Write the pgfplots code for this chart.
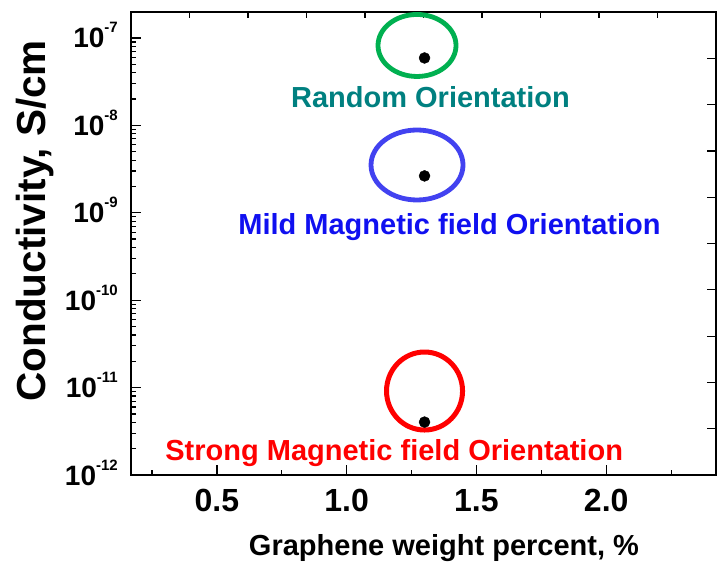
\documentclass[border=0pt]{standalone}
\usepackage{fontspec}
\setmainfont{Liberation Sans}
\usepackage{pgfplots}
\pgfplotsset{compat=1.18}

\definecolor{ringgreen}{RGB}{0,176,80}
\definecolor{ringblue}{RGB}{66,66,240}
\definecolor{txtteal}{RGB}{0,128,128}
\definecolor{txtblue}{RGB}{16,16,240}
\definecolor{txtred}{RGB}{255,0,0}

% power-of-ten tick label with a raised exponent
\newcommand{\ee}[1]{10\raisebox{15bp}{\fontsize{15bp}{18bp}\selectfont #1}}

\begin{document}
\begin{tikzpicture}
\path[use as bounding box] (-131bp,-89bp) rectangle (586bp,475bp);
\begin{axis}[
  scale only axis,
  width=585bp, height=463bp,
  ymode=log,
  xmin=0.169, xmax=2.423,
  ymin=1e-12, ymax=1.98e-7,
  clip=false,
  axis line style={line width=1.5bp},
  xtick pos=bottom, ytick pos=left,
  tick align=inside,
  major tick length=10bp, minor tick length=5bp,
  every tick/.style={black, line width=1.2bp},
  xtick={0.5,1,1.5,2},
  xticklabels={0.5,1.0,1.5,2.0},
  minor xtick={0.25,0.75,1.25,1.75,2.25},
  ytick={1e-12,1e-11,1e-10,1e-9,1e-8,1e-7},
  yticklabels={\ee{-12},\ee{-11},\ee{-10},\ee{-9},\ee{-8},\ee{-7}},
  minor ytick={2e-12,3e-12,4e-12,5e-12,6e-12,7e-12,8e-12,9e-12,
               2e-11,3e-11,4e-11,5e-11,6e-11,7e-11,8e-11,9e-11,
               2e-10,3e-10,4e-10,5e-10,6e-10,7e-10,8e-10,9e-10,
               2e-9,3e-9,4e-9,5e-9,6e-9,7e-9,8e-9,9e-9,
               2e-8,3e-8,4e-8,5e-8,6e-8,7e-8,8e-8,9e-8},
  /pgf/number format/assume math mode=true,
  xticklabel style={font=\fontsize{32bp}{36bp}\selectfont\bfseries,
                    anchor=base, inner sep=0pt, yshift=-36bp},
  yticklabel style={font=\fontsize{28bp}{32bp}\selectfont\bfseries,
                    anchor=base east, inner sep=0pt, xshift=-13bp, yshift=-10bp},
  xlabel={Graphene weight percent, \%},
  ylabel={Conductivity, S/cm},
  xlabel style={font=\fontsize{29bp}{34bp}\selectfont\bfseries,
                at={(axis description cs:0.535,-0.173)}, anchor=base},
  ylabel style={font=\fontsize{40.5bp}{46bp}\selectfont\bfseries,
                at={(axis description cs:-0.147,0.549)}, anchor=base, rotate=0},
]
% measured conductivity for each orientation state
\addplot[only marks, mark=*, mark size=5.5bp, black] coordinates {
  (1.3, 5.9e-8)
  (1.3, 2.64e-9)
  (1.3, 4.03e-12)
};

% linear ticks along the top and right frame
\pgfplotsinvokeforeach{0.1,0.2,0.3,0.4,0.5,0.6,0.7,0.8,0.9}{
  \draw[line width=1.2bp] (rel axis cs:#1,1) -- ([yshift=-6bp]rel axis cs:#1,1);
  \draw[line width=1.2bp] (rel axis cs:1,#1) -- ([xshift=-9bp]rel axis cs:1,#1);
}

% rings around the points
\draw[ringgreen, line width=4.8bp] (axis cs:1.271,8.2e-8) ellipse [x radius=39bp, y radius=31bp];
\draw[ringblue, line width=4.8bp] (axis cs:1.271,3.52e-9) ellipse [x radius=46bp, y radius=35bp];
\draw[txtred, line width=5bp] (axis cs:1.3,9.14e-12) ellipse [x radius=38bp, y radius=39bp];

% labels
\begin{scope}[every node/.style={font=\fontsize{29bp}{34bp}\selectfont\bfseries, anchor=base, inner sep=0pt}]
\node[text=txtteal] at (axis cs:1.323,1.62e-8) {Random Orientation};
\node[text=txtblue] at (axis cs:1.396,5.71e-10) {Mild Magnetic field Orientation};
\node[text=txtred] at (axis cs:1.183,1.45e-12) {Strong Magnetic field Orientation};
\end{scope}
\end{axis}
\end{tikzpicture}
\end{document}
